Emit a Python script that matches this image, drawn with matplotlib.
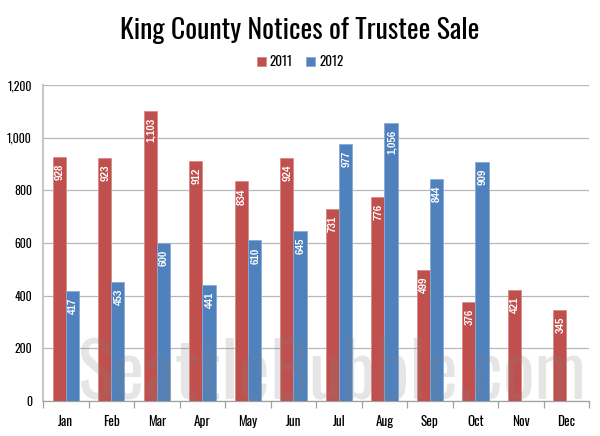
import matplotlib
matplotlib.use("Agg")
from matplotlib import pyplot as plt
import numpy as np

months = ["Jan", "Feb", "Mar", "Apr", "May", "Jun", "Jul", "Aug", "Sep", "Oct", "Nov", "Dec"]
y_2011 = [928, 923, 1103, 912, 834, 924, 731, 776, 499, 376, 421, 345]
y_2012 = [417, 453, 600, 441, 610, 645, 977, 1056, 844, 909]

plt.rcParams['font.family'] = ['Oswald', 'Barlow Condensed', 'Liberation Sans Narrow', 'DejaVu Sans']

red = "#C0504D"
blue = "#4F81BD"
bar_width = 0.29

fig = plt.figure(figsize=(6, 4.36), dpi=100)
ax = fig.add_axes([0.0717, 0.0803, 0.9103, 0.7247])

x = np.arange(len(months))
x_11 = x - bar_width / 2
x_12 = x[:len(y_2012)] + bar_width / 2

b1 = ax.bar(x_11, y_2011, width=bar_width, color=red, edgecolor="#D98A88", linewidth=0.6,
            label="2011", zorder=3)
b2 = ax.bar(x_12, y_2012, width=bar_width, color=blue, edgecolor="#8AAAD4", linewidth=0.6,
            label="2012", zorder=3)

# value labels inside the bars
for bars, vals in ((b1, y_2011), (b2, y_2012)):
    for b, v in zip(bars, vals):
        ax.annotate(f"{v:,}", (b.get_x() + b.get_width() / 2, v), xytext=(0.5, -5),
                    textcoords="offset points", rotation=90, ha="center", va="top",
                    color="white", fontsize=7, fontweight="bold",
                    family=["Liberation Sans", "DejaVu Sans"], zorder=4)

ax.set_xlim(-0.5, len(months) - 0.5)
ax.set_ylim(0, 1200)
ax.set_yticks(range(0, 1201, 200))
ax.set_yticklabels([f"{v:,}" for v in range(0, 1201, 200)], fontsize=8.5, fontweight="bold")
ax.yaxis.grid(True, color="#B8B8B8", linewidth=0.9, zorder=0)
ax.tick_params(axis="y", length=0, pad=8)

ax.set_xticks(x)
ax.set_xticklabels(months, fontsize=9.5, fontweight="bold")
ax.set_xticks(np.arange(-0.5, len(months)), minor=True)
ax.tick_params(axis="x", which="major", length=0, pad=10)
ax.tick_params(axis="x", which="minor", length=5, color="#A0A0A0", width=0.9)

for s in ("top", "right"):
    ax.spines[s].set_visible(False)
ax.spines["left"].set_color("#C8C8C8")
ax.spines["left"].set_linewidth(1.5)
ax.spines["bottom"].set_color("#A0A0A0")
ax.spines["bottom"].set_linewidth(0.9)

# watermark
ax.text(0.53, 0.004, "SeattleBubble.com", transform=ax.transAxes, ha="center", va="baseline",
        fontsize=54, fontweight="bold", color="#808080", alpha=0.2, zorder=5)

fig.text(0.5, 0.931, "King County Notices of Trustee Sale", ha="center", va="center",
         fontsize=20)
fig.legend(handles=[b1, b2], loc="center", bbox_to_anchor=(0.5, 0.858), ncol=2, frameon=False,
           fontsize=9.5, handlelength=0.7, handleheight=0.7, handletextpad=0.3, columnspacing=1.0)

fig.savefig("out.png", dpi=100)
